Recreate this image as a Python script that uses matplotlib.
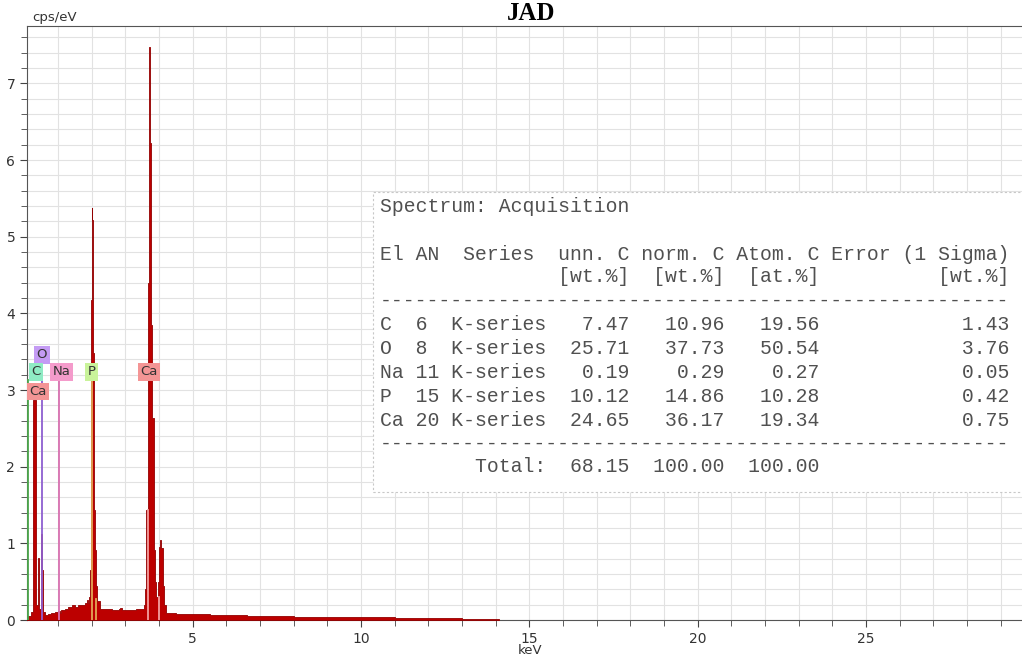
import matplotlib
matplotlib.use("Agg")
import matplotlib.pyplot as plt
from matplotlib.patches import Rectangle
from matplotlib.ticker import MultipleLocator

W, H = 1022, 657

# Spectrum (keV, cps/eV), drawn as steps
energy_kev = [0.08, 0.12, 0.20, 0.25, 0.35, 0.40, 0.44, 0.49, 0.53, 0.56, 0.60,
              0.70, 0.80, 0.90, 1.00, 1.05, 1.10, 1.20, 1.30, 1.40, 1.50, 1.60,
              1.70, 1.80, 1.85, 1.90, 1.93, 1.96, 1.985, 2.00, 2.02, 2.04, 2.07,
              2.10, 2.13, 2.17, 2.25, 2.40, 2.60, 2.80, 2.85, 2.90, 3.10, 3.30,
              3.45, 3.55, 3.58, 3.62, 3.66, 3.70, 3.73, 3.76, 3.80, 3.84, 3.88,
              3.92, 3.96, 3.99, 4.02, 4.07, 4.11, 4.15, 4.22, 4.50, 5.00, 5.50,
              6.00, 6.20, 6.60, 7.00, 8.00, 9.00, 10.0, 11.0, 12.0, 13.0, 13.5,
              14.1]
cps = [0.00, 0.05, 0.10, 2.87, 0.20, 0.81, 0.15, 1.12, 0.65, 0.10, 0.07,
       0.08, 0.09, 0.10, 0.12, 0.09, 0.13, 0.15, 0.17, 0.20, 0.17, 0.19,
       0.20, 0.22, 0.26, 0.22, 0.30, 0.65, 4.18, 5.38, 5.22, 3.49, 1.43,
       0.91, 0.45, 0.25, 0.15, 0.14, 0.13, 0.14, 0.16, 0.13, 0.13, 0.14,
       0.15, 0.20, 0.40, 1.43, 4.40, 7.47, 6.23, 3.85, 2.64, 0.91, 0.50,
       0.30, 0.50, 0.95, 1.04, 0.94, 0.45, 0.20, 0.09, 0.08, 0.075, 0.07,
       0.068, 0.06, 0.055, 0.05, 0.045, 0.04, 0.035, 0.032, 0.03, 0.015, 0.01,
       0.00]

# element marker lines
line_kev = [0.10, 0.51, 1.04, 2.01, 2.14, 3.66, 4.01]
line_top = [3.13, 3.36, 3.13, 3.13, 0.28, 1.43, 0.30]
line_color = ["#4ca64c", "#8e5fd0", "#d870b0", "#e3a857", "#e3a857", "#f3a0a0", "#f3a0a0"]

# element labels
label_text = ["O", "C", "Na", "P", "Ca", "Ca"]
label_kev = [0.52, 0.33, 1.10, 1.99, 3.70, 0.40]
label_cps = [3.46, 3.24, 3.24, 3.24, 3.24, 2.98]
label_color = ["#c49bf4", "#8febc4", "#f49bcb", "#c9f39a", "#f49595", "#f49595"]

# quantification table
elements = ["C", "O", "Na", "P", "Ca"]
atomic_no = [6, 8, 11, 15, 20]
unn_c = [7.47, 25.71, 0.19, 10.12, 24.65]
norm_c = [10.96, 37.73, 0.29, 14.86, 36.17]
atom_c = [19.56, 50.54, 0.27, 10.28, 19.34]
error = [1.43, 3.76, 0.05, 0.42, 0.75]
totals = [68.15, 100.00, 100.00]


def px(x, y):
    return x / W, 1 - y / H


fig = plt.figure(figsize=(W / 100, H / 100), dpi=100)
ax = fig.add_axes([27 / W, 1 - 620 / H, (W - 27) / W, (620 - 26) / H])

ax.fill_between(energy_kev, cps, step="post", color="#bc0000",
                edgecolor="#930000", linewidth=0.6, zorder=3)

for e, top, c in zip(line_kev, line_top, line_color):
    ax.plot([e, e], [0, top], color=c, linewidth=1.3, zorder=4)

for t, x, y, c in zip(label_text, label_kev, label_cps, label_color):
    ax.text(x, y, t, ha="center", va="center", fontsize=9.5, color="#333333",
            zorder=6, bbox=dict(boxstyle="square,pad=0.18", fc=c, ec="none"))

ax.set_xlim(0.077, 29.63)
ax.set_ylim(0, 7.75)
ax.xaxis.set_major_locator(MultipleLocator(5))
ax.xaxis.set_minor_locator(MultipleLocator(1))
ax.yaxis.set_major_locator(MultipleLocator(1))
ax.yaxis.set_minor_locator(MultipleLocator(0.2))
ax.grid(which="both", color="#e2e2e2", linewidth=0.8, zorder=0)
ax.set_axisbelow(True)
ax.tick_params(which="both", colors="#444444", labelcolor="#333333",
               labelsize=10, direction="out")
ax.tick_params(which="major", length=5)
ax.tick_params(which="minor", length=4)
for side in ["left", "bottom", "top"]:
    ax.spines[side].set_color("#555555")
ax.spines["right"].set_visible(False)

fig.text(*px(32, 17), "cps/eV", ha="left", va="center", fontsize=9.5, color="#333333")
fig.text(*px(530, 651), "keV", ha="center", va="center", fontsize=9.5, color="#333333")
fig.text(*px(531, 20), "JAD", ha="center", va="baseline", fontsize=18,
         family="Liberation Serif", weight="bold", color="black")

# table box
box = Rectangle(px(373, 492), (W + 20 - 373) / W, (492 - 192) / H,
                transform=fig.transFigure, facecolor="white", edgecolor="#c8c8c8",
                linestyle=(0, (2, 2)), linewidth=0.8, zorder=5, clip_on=False)
ax.add_patch(box)

dash = "-" * 53
lines = [
    (207, "Spectrum: Acquisition"),
    (254, "El AN  Series  unn. C norm. C Atom. C Error (1 Sigma)"),
    (277, " " * 15 + "[wt.%]  [wt.%]  [at.%]" + " " * 10 + "[wt.%]"),
    (300, dash),
]
row_y = [325, 349, 373, 396, 420]
for y, el, an, u, n, a, e in zip(row_y, elements, atomic_no, unn_c, norm_c, atom_c, error):
    s = f"{el:<3}{an:<3}K-series{u:>7.2f}{n:>8.2f}{a:>8.2f}{e:>16.2f}"
    lines.append((y, s))
lines.append((443, dash))
lines.append((467, f"{'Total:':>14}{totals[0]:>7.2f}{totals[1]:>8.2f}{totals[2]:>8.2f}"))

for y, s in lines:
    fig.text(*px(380, y), s, ha="left", va="center", family="Liberation Mono",
             fontsize=14.2, color="#505050", zorder=7)

fig.savefig("out.png", dpi=100)
